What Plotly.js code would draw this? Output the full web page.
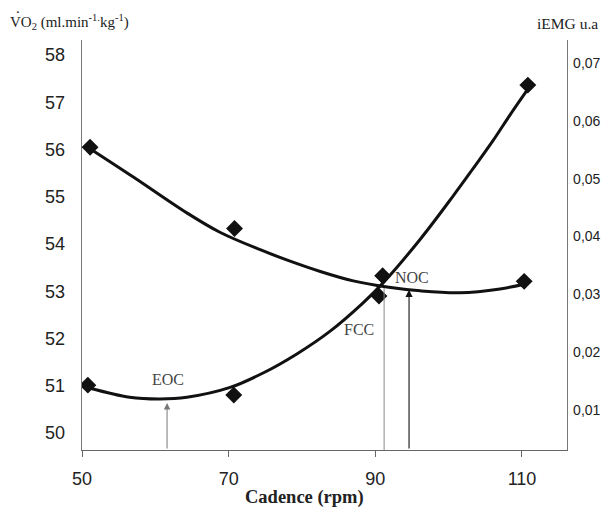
<!DOCTYPE html>
<html>
<head>
<meta charset="utf-8">
<script src="https://cdn.plot.ly/plotly-3.0.1.min.js"></script>
<style>html,body{margin:0;padding:0;background:#fff;}#chart{width:609px;height:507px;}</style>
</head>
<body>
<div id="chart"></div>
<script>
// Measured points
const vo2Cadence = [51.1, 70.8, 91.0, 110.3];
const vo2Values = [56.05, 54.33, 53.33, 53.21];
const emgCadence = [50.8, 70.7, 90.5, 110.8];
const emgValues = [0.0143, 0.0126, 0.0297, 0.0662];

// Trend curves
const vo2TrendX = [51.1, 57, 64.3, 68.8, 74.3, 78, 82.5, 87, 91.6, 96.1, 101.5, 107, 110.3];
const vo2TrendY = [56.02, 55.42, 54.66, 54.25, 53.88, 53.66, 53.42, 53.22, 53.09, 53.01, 52.97, 53.05, 53.15];
const emgTrendX = [51, 56.5, 60.6, 64.3, 70.2, 74.7, 79.3, 83.8, 88.3, 91, 96.1, 100.6, 103.3, 106, 108.4, 110.8];
const emgTrendY = [0.0138, 0.0122, 0.0119, 0.0122, 0.0139, 0.0164, 0.0197, 0.0236, 0.0285, 0.0319, 0.0395, 0.047, 0.0517, 0.0565, 0.0611, 0.0655];

// Tick labels
const xTicks = [50, 70, 90, 110];
const leftTicks = [50, 51, 52, 53, 54, 55, 56, 57, 58];
const rightTicks = [0.01, 0.02, 0.03, 0.04, 0.05, 0.06, 0.07];
const rightTickText = ['0,01', '0,02', '0,03', '0,04', '0,05', '0,06', '0,07'];

// Marked cadences
const eocX = 61.6, fccX = 91.2, nocX = 94.6;

const serif = 'Liberation Serif, Times New Roman, serif';
const sans = 'Liberation Sans, Arial, sans-serif';

const traces = [
  {x: vo2TrendX, y: vo2TrendY, mode: 'lines', line: {color: '#111', width: 3, shape: 'spline'}, yaxis: 'y', showlegend: false},
  {x: emgTrendX, y: emgTrendY, mode: 'lines', line: {color: '#111', width: 3, shape: 'spline'}, yaxis: 'y2', showlegend: false},
  {x: vo2Cadence, y: vo2Values, mode: 'markers', marker: {symbol: 'diamond', size: 13, color: '#111'}, yaxis: 'y', showlegend: false},
  {x: emgCadence, y: emgValues, mode: 'markers', marker: {symbol: 'diamond', size: 13, color: '#111'}, yaxis: 'y2', showlegend: false}
];

const yBottom = 49.64;

const layout = {
  width: 609, height: 507,
  margin: {l: 82, r: 42, t: 40, b: 57},
  paper_bgcolor: '#fff', plot_bgcolor: '#fff',
  separators: ',.',
  showlegend: false,
  xaxis: {
    range: [50, 116.14], tickvals: xTicks, ticktext: xTicks.map(String),
    showgrid: false, zeroline: false, showline: true, linecolor: '#666', linewidth: 1.3,
    ticks: 'outside', ticklen: 6, tickcolor: '#666', tickwidth: 1,
    ticklabelstandoff: 6,
    tickfont: {family: sans, size: 18, color: '#222'}
  },
  yaxis: {
    range: [yBottom, 58.32], tickvals: leftTicks, ticktext: leftTicks.map(String),
    showgrid: false, zeroline: false, showline: true, linecolor: '#777', linewidth: 1.3,
    ticks: '', ticklabelstandoff: 12,
    tickfont: {family: sans, size: 18, color: '#222'}
  },
  yaxis2: {
    range: [0.00308, 0.074], overlaying: 'y', side: 'right',
    tickvals: rightTicks, ticktext: rightTickText,
    showgrid: false, zeroline: false, showline: true, linecolor: '#777', linewidth: 1.3,
    ticks: '', ticklabelstandoff: 2,
    tickfont: {family: sans, size: 14, color: '#222'}
  },
  shapes: [
    {type: 'line', xref: 'x', yref: 'y', x0: fccX, x1: fccX, y0: yBottom, y1: 53.07, line: {color: '#888', width: 1}}
  ],
  annotations: [
    {xref: 'paper', yref: 'paper', x: -0.152, y: 1.045, xanchor: 'left', yanchor: 'middle', showarrow: false,
     text: 'VO<sub>2</sub> (ml.min<sup>-1.</sup>kg<sup>-1</sup>)', font: {family: serif, size: 15, color: '#222'}},
    {xref: 'paper', yref: 'paper', x: -0.141, y: 1.079, xanchor: 'left', yanchor: 'middle', showarrow: false,
     text: '.', font: {family: serif, size: 15, color: '#222'}},
    {xref: 'paper', yref: 'paper', x: 0.934, y: 1.041, xanchor: 'left', yanchor: 'middle', showarrow: false,
     text: 'iEMG u.a', font: {family: serif, size: 15.5, color: '#222'}},
    {xref: 'paper', yref: 'paper', x: 0.458, y: -0.115, xanchor: 'center', yanchor: 'middle', showarrow: false,
     text: '<b>Cadence (rpm)</b>', font: {family: serif, size: 18.5, color: '#222'}},
    {xref: 'x', yref: 'y', x: 61.7, y: 51.14, showarrow: false, text: 'EOC', font: {family: serif, size: 16, color: '#444'}},
    {xref: 'x', yref: 'y', x: 87.8, y: 52.2, showarrow: false, text: 'FCC', font: {family: serif, size: 16, color: '#444'}},
    {xref: 'x', yref: 'y', x: 95.0, y: 53.3, showarrow: false, text: 'NOC', font: {family: serif, size: 16, color: '#444'}},
    {xref: 'x', yref: 'y', axref: 'x', ayref: 'y', x: eocX, y: 50.635, ax: eocX, ay: yBottom, text: '',
     showarrow: true, arrowhead: 2, arrowsize: 1.3, arrowwidth: 1, arrowcolor: '#777', standoff: 0},
    {xref: 'x', yref: 'y', axref: 'x', ayref: 'y', x: nocX, y: 53.03, ax: nocX, ay: yBottom, text: '',
     showarrow: true, arrowhead: 2, arrowsize: 1.3, arrowwidth: 1.1, arrowcolor: '#111', standoff: 0}
  ]
};

Plotly.newPlot('chart', traces, layout, {staticPlot: true, displayModeBar: false});
</script>
</body>
</html>
